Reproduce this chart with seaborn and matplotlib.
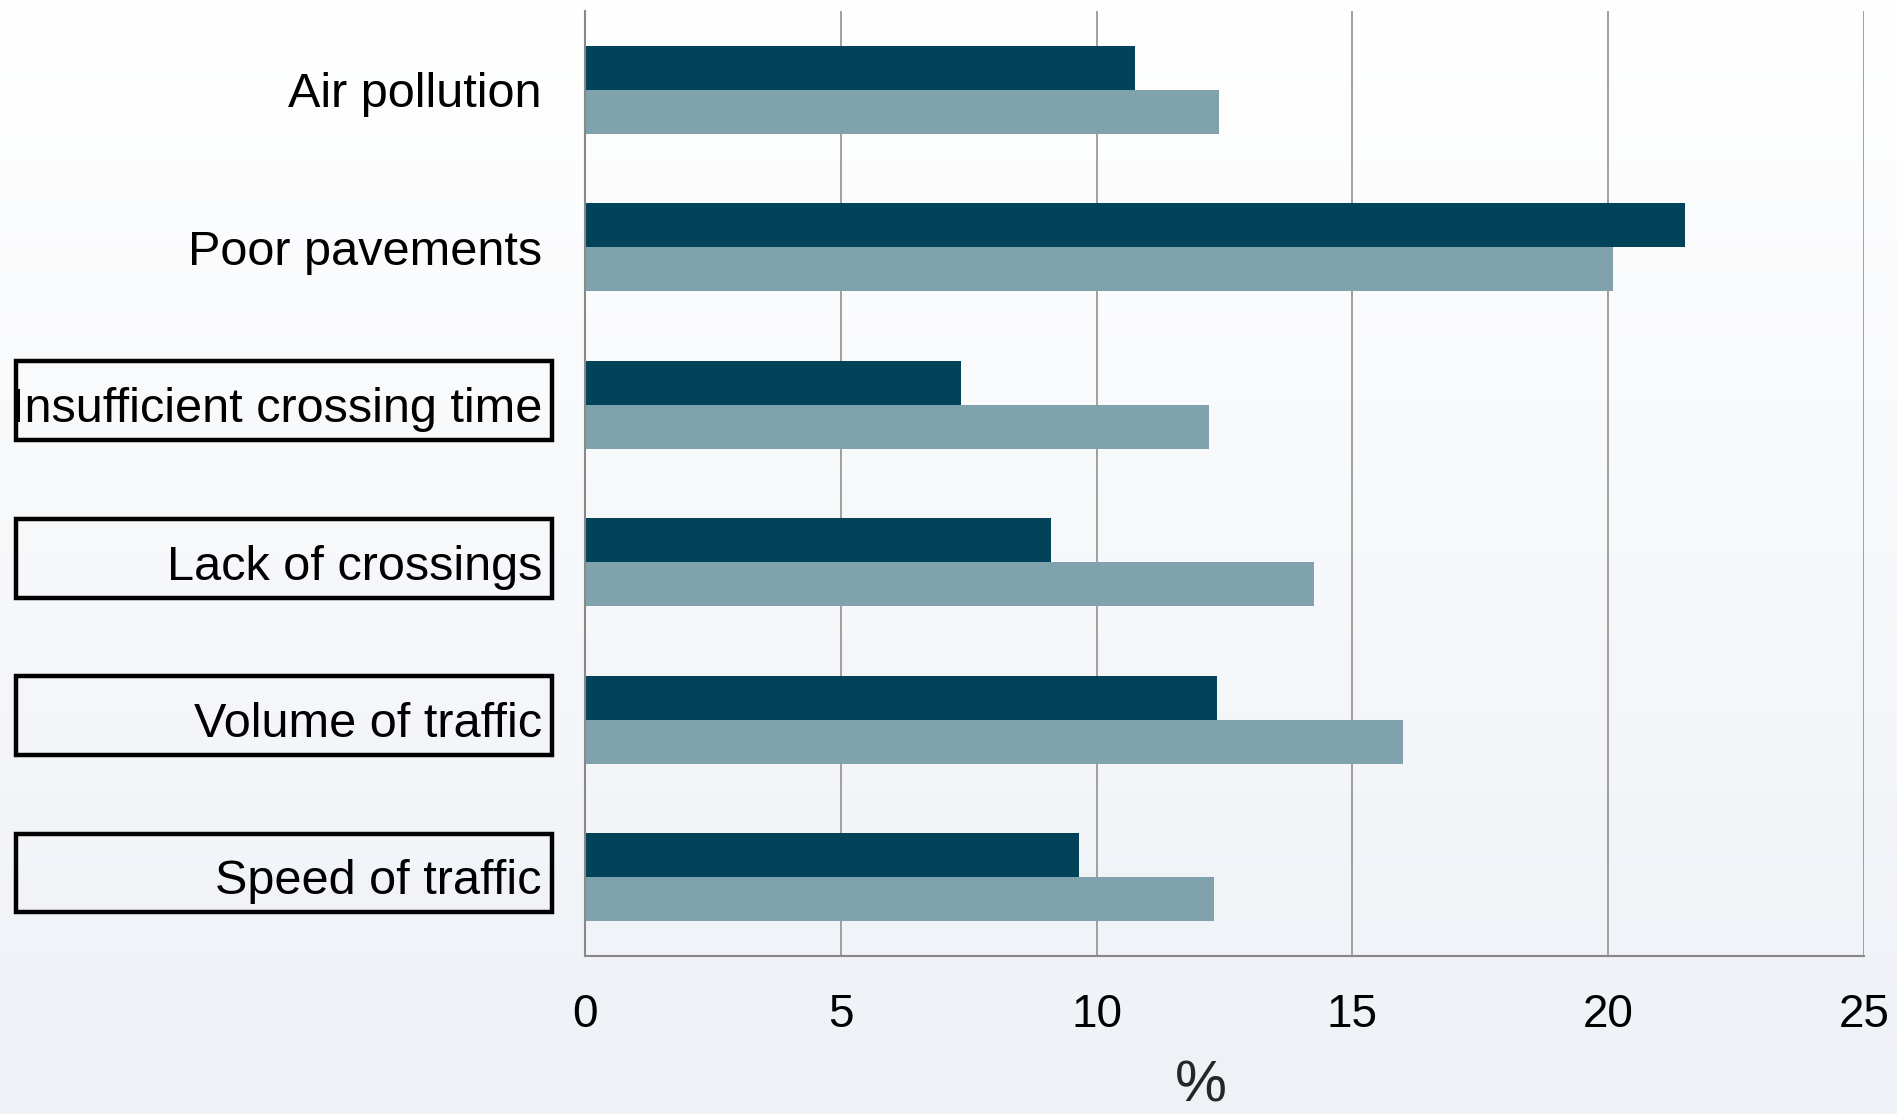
import numpy as np
import pandas as pd
import seaborn as sns
import matplotlib.pyplot as plt
import matplotlib.transforms as mtransforms
from matplotlib.patches import Rectangle
from matplotlib.colors import LinearSegmentedColormap

# datos
problemas = ['Air pollution', 'Poor pavements', 'Insufficient crossing time',
             'Lack of crossings', 'Volume of traffic', 'Speed of traffic']
serie1 = [10.75, 21.5, 7.35, 9.1, 12.35, 9.65]
serie2 = [12.4, 20.1, 12.2, 14.25, 16.0, 12.3]
con_caja = ['Insufficient crossing time', 'Lack of crossings',
            'Volume of traffic', 'Speed of traffic']
ticks_x = [0, 5, 10, 15, 20, 25]

datos = pd.DataFrame({'problema': problemas * 2,
                      'valor': serie1 + serie2,
                      'serie': ['Serie 1'] * len(problemas) + ['Serie 2'] * len(problemas)})

sns.set_style('white')
plt.rcParams['font.family'] = ['Liberation Sans', 'DejaVu Sans']

fig = plt.figure(figsize=(18.97, 11.14), dpi=100)

# fondo degradado
fondo = fig.add_axes([0, 0, 1, 1], zorder=-10)
grad = LinearSegmentedColormap.from_list('g', ['#ffffff', '#eef1f6'])
fondo.imshow(np.linspace(0, 1, 256).reshape(-1, 1), aspect='auto', cmap=grad,
             extent=[0, 1, 0, 1])
fondo.axis('off')

ax = fig.add_axes([0.3084, 0.1421, 0.6741, 0.8478])
ax.set_facecolor('none')

sns.barplot(data=datos, x='valor', y='problema', hue='serie', order=problemas,
            palette=['#02435a', '#80a2ac'], saturation=1, width=0.56,
            linewidth=0, legend=False, ax=ax)

ax.set_xlim(0, 25)
ax.set_ylim(len(problemas) - 0.5, -0.5)
ax.set_xticks(ticks_x)
ax.set_xticklabels([str(t) for t in ticks_x])
ax.set_yticks(range(len(problemas)))
ax.set_yticks(np.arange(-0.5, len(problemas), 1), minor=True)

gris = '#888888'
ax.set_axisbelow(True)
ax.xaxis.grid(True, color=gris, linewidth=1.1)
for s in ['top', 'right']:
    ax.spines[s].set_visible(False)
for s in ['left', 'bottom']:
    ax.spines[s].set_color(gris)
    ax.spines[s].set_linewidth(1.5)

ax.tick_params(axis='y', which='major', length=0, pad=31, labelsize=35, labelcolor='black')
ax.tick_params(axis='y', which='minor', length=10.8, width=1.1, color=gris)
ax.tick_params(axis='x', which='major', length=10, width=1.1, color=gris,
               pad=17, labelsize=33, labelcolor='black')

ax.set_ylabel('')
ax.set_xlabel('%', fontsize=42, labelpad=16, x=0.4815)

# cajas alrededor de algunas etiquetas
trans = mtransforms.blended_transform_factory(fig.transFigure, ax.transData)
for p in con_caja:
    i = problemas.index(p)
    r = Rectangle((15.7 / 1897, i - 0.275), 536 / 1897, 0.5, transform=trans,
                  fill=False, edgecolor='black', linewidth=3.2, clip_on=False)
    ax.add_patch(r)

fig.savefig('out.png', dpi=100)
